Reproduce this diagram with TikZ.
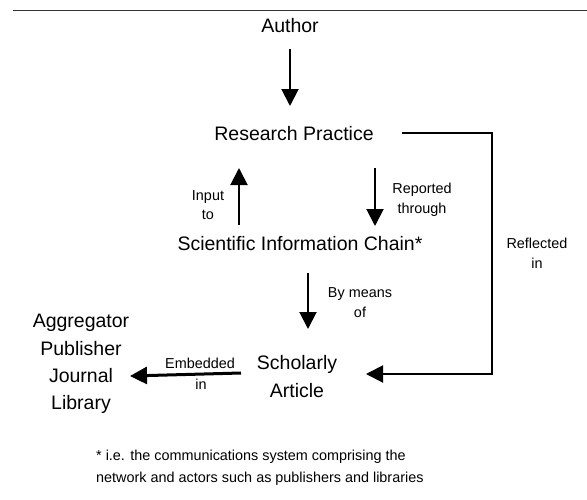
\documentclass[tikz,border=0pt]{standalone}
\usepackage{fontspec}
\setmainfont{Liberation Sans}
\usetikzlibrary{arrows.meta}
\begin{document}
\begin{tikzpicture}[x=1pt,y=-1pt,
  big/.style={anchor=base, inner sep=0pt, font=\fontsize{19.5}{23}\selectfont},
  small/.style={anchor=base, inner sep=0pt, font=\fontsize{14.4}{17}\selectfont},
  note/.style={anchor=base west, inner sep=0pt, font=\fontsize{14.4}{17}\selectfont},
  flow/.style={line width=2pt, -{Triangle[width=17pt,length=17pt]}},
  rule/.style={line width=1pt, draw=black!80},
]
\useasboundingbox (0,0) rectangle (587,499);

% header rule
\coordinate (ruleL) at (13,10);
\coordinate (ruleR) at (587,10);
\draw[rule] (ruleL) -- (ruleR);

% main concepts
\node[big] (author) at (290,32) {Author};
\node[big] (rp) at (294,140) {Research Practice};
\node[big] (sic) at (300,250) {Scientific Information Chain*};
\node[big] (sch) at (297,369) {Scholarly};
\node[big] (art) at (297,397) {Article};
\node[big] (agg) at (81,327) {Aggregator};
\node[big] (pub) at (81,355) {Publisher};
\node[big] (jou) at (81,382) {Journal};
\node[big] (lib) at (81,409) {Library};

% relation labels
\node[small] (in1) at (208,200) {Input};
\node[small] (in2) at (208,219) {to};
\node[small] (rep1) at (422,193) {Reported};
\node[small] (rep2) at (422,213) {through};
\node[small] (ref1) at (537,248) {Reflected};
\node[small] (ref2) at (537,268) {in};
\node[small] (bm1) at (360,297) {By means};
\node[small] (bm2) at (360,317) {of};
\node[small] (emb1) at (200,368) {Embedded};
\node[small] (emb2) at (201,389) {in};

% footnote
\node[note] (fn1) at (96,460) {* i.e. the communications system comprising the};
\node[note] (fn2) at (96,482) {network and actors such as publishers and libraries};

% arrow end points
\coordinate (aS) at (290,49);   \coordinate (aE) at (290,106);
\coordinate (iS) at (239,225);  \coordinate (iE) at (239,168);
\coordinate (rS) at (375,168);  \coordinate (rE) at (375,226);
\coordinate (bS) at (308,273);  \coordinate (bE) at (308,329);
\coordinate (eS) at (241,373);  \coordinate (eE) at (130,376);
\coordinate (fS) at (402,133);  \coordinate (fA) at (492,133);
\coordinate (fB) at (492,374);  \coordinate (fE) at (366,374);

% connectors
\draw[flow] (aS) -- (aE);
\draw[flow] (iS) -- (iE);
\draw[flow] (rS) -- (rE);
\draw[flow] (bS) -- (bE);
\draw[flow, line width=3pt] (eS) -- (eE);
\draw[flow, line join=miter] (fS) -- (fA) -- (fB) -- (fE);
\end{tikzpicture}
\end{document}
